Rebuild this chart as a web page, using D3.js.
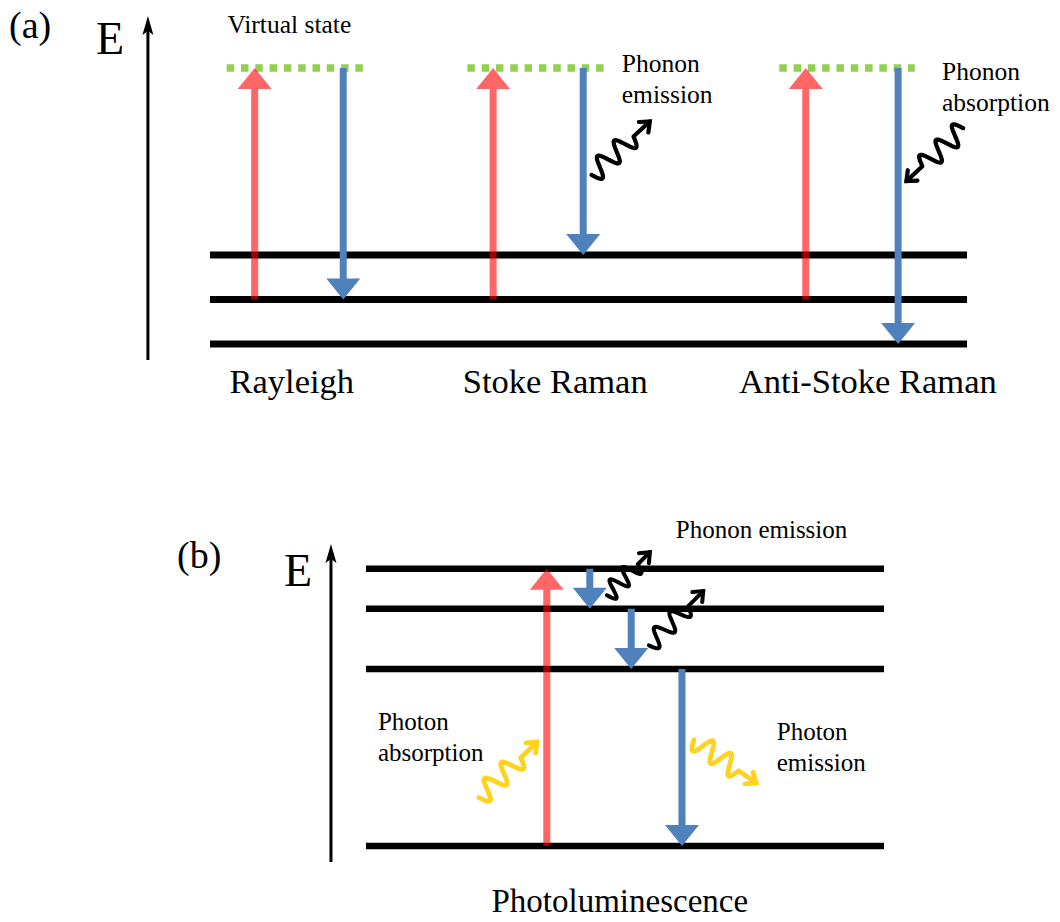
<!DOCTYPE html>
<html><head><meta charset="utf-8">
<script src="https://cdn.jsdelivr.net/npm/d3@7"></script>
<style>body{margin:0;background:#fff}</style>
</head><body>
<script>
// ---------- Panel (a): Rayleigh / Raman scattering ----------
const levelsA = [0, 1, 2];                 // vibrational levels of the ground state
const virtualLevelA = 6.2;                 // virtual state energy
const processNamesA = ["Rayleigh", "Stoke Raman", "Anti-Stoke Raman"];
const processLabelXA = [10.8, 45.6, 86.9];
const virtualSpanStartA = [2.2, 34.0, 75.2];
const virtualSpanEndA = [20.2, 52.2, 93.1];
const excitationXA = [5.9, 37.4, 78.7];
const excitationFromA = [1, 1, 1];
const emissionXA = [17.6, 49.3, 90.9];
const emissionToA = [1, 2, 0];

// ---------- Panel (b): photoluminescence ----------
const levelsB = [0, 3.0, 4.02, 4.7];
const excitationB = { x: 34.9, from: 0, to: 4.7 };
const relaxXB = [43.2, 51.2, 61.0];
const relaxFromB = [4.7, 4.02, 3.0];
const relaxToB = [4.02, 3.0, 0];

// wavy arrows: start point -> arrow tip (x units, energy units)
const phononA = [
  { x0: 50.4, e0: 3.80, x1: 58.1, e1: 5.0 },    // emission
  { x0: 99.5, e0: 4.85, x1: 92.0, e1: 3.66 }    // absorption
];
const phononB = [
  { x0: 46.5, e0: 4.25, x1: 54.8, e1: 4.98 },
  { x0: 54.6, e0: 3.40, x1: 65.1, e1: 4.32 }
];
const photonB = [
  { x0: 21.8, e0: 0.82, x1: 33.0, e1: 1.76 },   // absorption
  { x0: 63.3, e0: 1.80, x1: 75.3, e1: 1.07 }    // emission
];

const RED = "rgba(255,0,0,0.6)", BLUE = "#4F81BD", GREEN = "#92D050", YELLOW = "#FFD21F";
const SERIF = "'Liberation Serif', 'Times New Roman', serif";

const W = 1060, H = 922;
const svg = d3.select("body").append("svg").attr("width", W).attr("height", H)
  .attr("font-family", SERIF);

// scales
const xA = d3.scaleLinear().domain([0, 100]).range([210, 967]);
const yA = d3.scaleLinear().domain([0, 1]).range([344, 299.5]);
const xB = d3.scaleLinear().domain([0, 100]).range([366, 884]);
const yB = d3.scaleLinear().domain([0, 1]).range([846, 787]);

function label(g, x, y, size, txt) {
  return g.append("text").attr("x", x).attr("y", y).attr("font-size", size)
    .attr("font-family", SERIF).attr("fill", "#000").text(txt);
}

// vertical block arrow as one polygon (so the translucent fill doesn't overlap itself)
function blockArrow(g, x, yFrom, yTip, color) {
  const sw = 3.5, hw = 17, hl = 21;
  const dir = yTip < yFrom ? -1 : 1;
  const yBase = yTip - dir * hl;
  const pts = [[x - sw, yFrom], [x - sw, yBase], [x - hw, yBase], [x, yTip],
               [x + hw, yBase], [x + sw, yBase], [x + sw, yFrom]];
  g.append("path").attr("d", "M" + pts.map(p => p.join(",")).join("L") + "Z")
    .attr("fill", color);
}

// wavy arrow: sine wave followed by a short straight tail and an open chevron head
function wavyArrow(g, x0, y0, x1, y1, color, width, amp) {
  const dx = x1 - x0, dy = y1 - y0, L = Math.hypot(dx, dy);
  const ux = dx / L, uy = dy / L, nx = -uy, ny = ux;
  const waveLen = L * 0.72, cycles = 2.5, N = 120;
  const pts = d3.range(N + 1).map(i => {
    const s = waveLen * i / N;
    const off = amp * Math.sin(2 * Math.PI * cycles * i / N);
    return [x0 + ux * s + nx * off, y0 + uy * s + ny * off];
  });
  pts.push([x1, y1]);
  g.append("path").attr("d", d3.line()(pts)).attr("fill", "none")
    .attr("stroke", color).attr("stroke-width", width)
    .attr("stroke-linejoin", "round").attr("stroke-linecap", "round");
  const hl = 11, ang = Math.PI / 4.5;
  const bx = -ux, by = -uy;
  const hp = [-1, 1].map(sg => {
    const c = Math.cos(sg * ang), s = Math.sin(sg * ang);
    return [x1 + hl * (bx * c - by * s), y1 + hl * (bx * s + by * c)];
  });
  g.append("path").attr("d", d3.line()([hp[0], [x1, y1], hp[1]])).attr("fill", "none")
    .attr("stroke", color).attr("stroke-width", width)
    .attr("stroke-linejoin", "miter").attr("stroke-linecap", "round");
}

function axisArrow(g, x, yBottom, yTop) {
  g.append("line").attr("x1", x).attr("x2", x).attr("y1", yBottom).attr("y2", yTop + 12)
    .attr("stroke", "#000").attr("stroke-width", 3);
  g.append("path").attr("d", `M${x},${yTop}L${x - 5.5},${yTop + 19}L${x},${yTop + 15}L${x + 5.5},${yTop + 19}Z`)
    .attr("fill", "#000");
}

// ---------- draw panel (a) ----------
const gA = svg.append("g");
label(gA, 9, 38, 38, "(a)");
label(gA, 96, 54, 46, "E");
axisArrow(gA, xA(-8.2), yA(-0.36), yA(7.37));

gA.selectAll(".lvA").data(levelsA).join("line")
  .attr("x1", xA(0)).attr("x2", xA(100)).attr("y1", d => yA(d)).attr("y2", d => yA(d))
  .attr("stroke", "#000").attr("stroke-width", 7);

gA.selectAll(".vs").data(virtualSpanStartA).join("line")
  .attr("x1", d => xA(d)).attr("x2", (d, i) => xA(virtualSpanEndA[i]))
  .attr("y1", yA(virtualLevelA)).attr("y2", yA(virtualLevelA))
  .attr("stroke", GREEN).attr("stroke-width", 7.5).attr("stroke-dasharray", "7.5 6.8");

excitationXA.forEach((x, i) => blockArrow(gA, xA(x), yA(excitationFromA[i]), yA(virtualLevelA), RED));
emissionXA.forEach((x, i) => blockArrow(gA, xA(x), yA(virtualLevelA), yA(emissionToA[i]), BLUE));

phononA.forEach(p => wavyArrow(gA, xA(p.x0), yA(p.e0), xA(p.x1), yA(p.e1), "#000", 4.2, 10));

processNamesA.forEach((d, i) => label(gA, xA(processLabelXA[i]), 393, 34.5, d).attr("text-anchor", "middle"));

label(gA, xA(2.3), 33, 25.5, "Virtual state");
const annA = [["Phonon", "emission", 54.4, 72], ["Phonon", "absorption", 96.7, 80]];
annA.forEach(a => {
  const t = label(gA, xA(a[2]), a[3], 25.5, null);
  t.append("tspan").attr("x", xA(a[2])).text(a[0]);
  t.append("tspan").attr("x", xA(a[2])).attr("dy", 31).text(a[1]);
});

// ---------- draw panel (b) ----------
const gB = svg.append("g");
label(gB, 177, 568, 38, "(b)");
label(gB, 284, 586, 46, "E");
axisArrow(gB, xB(-6.76), yB(-0.27), yB(5.12));

gB.selectAll(".lvB").data(levelsB).join("line")
  .attr("x1", xB(0)).attr("x2", xB(100)).attr("y1", d => yB(d)).attr("y2", d => yB(d))
  .attr("stroke", "#000").attr("stroke-width", 6.5);

blockArrow(gB, xB(excitationB.x), yB(excitationB.from), yB(excitationB.to), RED);
relaxXB.forEach((x, i) => blockArrow(gB, xB(x), yB(relaxFromB[i]), yB(relaxToB[i]), BLUE));

phononB.forEach(p => wavyArrow(gB, xB(p.x0), yB(p.e0), xB(p.x1), yB(p.e1), "#000", 4, 9));
photonB.forEach(p => wavyArrow(gB, xB(p.x0), yB(p.e0), xB(p.x1), yB(p.e1), YELLOW, 4.8, 10));

label(gB, xB(59.8), 538, 25, "Phonon emission");
const annB = [["Photon", "absorption", 2.3, 730], ["Photon", "emission", 79.3, 740]];
annB.forEach(a => {
  const t = label(gB, xB(a[2]), a[3], 25, null);
  t.append("tspan").attr("x", xB(a[2])).text(a[0]);
  t.append("tspan").attr("x", xB(a[2])).attr("dy", 31).text(a[1]);
});
label(gB, xB(49.0), 912, 33, "Photoluminescence").attr("text-anchor", "middle");
</script>
</body></html>
